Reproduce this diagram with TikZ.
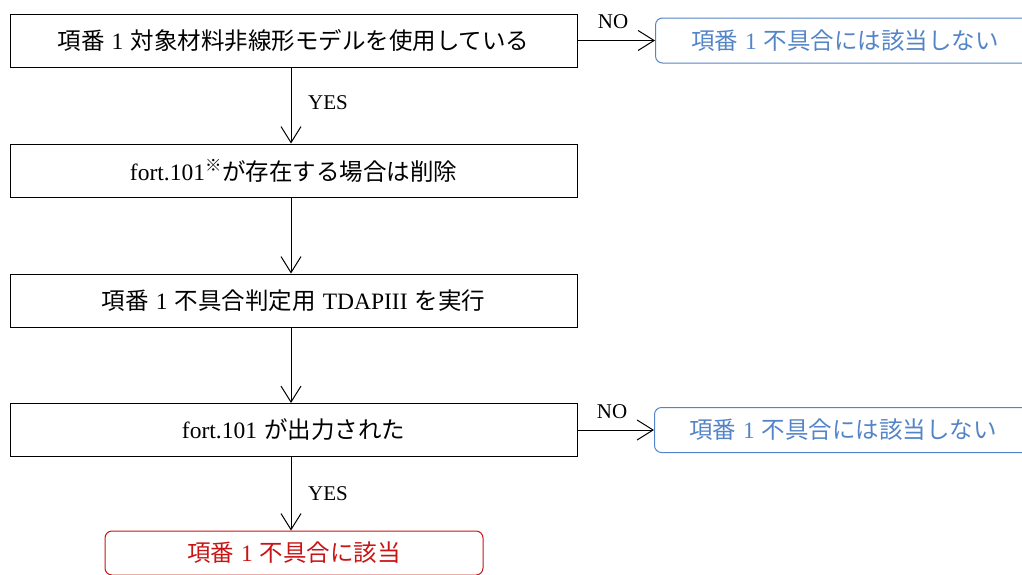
\documentclass[tikz,border=0pt]{standalone}
\usepackage{fontspec}
\setmainfont{Liberation Serif}
\newfontfamily\jp{Noto Sans CJK JP}
\usetikzlibrary{arrows.meta}
\definecolor{nblue}{RGB}{84,132,200}
\definecolor{nred}{RGB}{200,20,20}
\newcommand\jsp{\hspace{0.3em}}
\tikzset{
  txt/.style={font=\fontsize{23.5}{26}\selectfont},
  box/.style={txt, draw, line width=1pt, minimum width=567pt, minimum height=53pt, inner sep=0pt},
  nobox/.style={draw=nblue, line width=1pt, rounded corners=7pt, minimum width=380pt,
              minimum height=45pt, inner sep=0pt},
  notext/.style={txt, text=nblue, inner sep=0pt},
  hitbox/.style={txt, draw=nred, text=nred, line width=1pt, rounded corners=7pt, minimum width=378pt,
              minimum height=44pt, inner sep=0pt},
  arr/.style={line width=1pt, -{Straight Barb[length=16pt,width=20pt,line width=1pt]}},
  lab/.style={font=\fontsize{21}{24}\selectfont, inner sep=0pt}
}
\begin{document}
\begin{tikzpicture}[x=1pt,y=-1pt]
\useasboundingbox (0,0) rectangle (1022,574);
\clip (0,0) rectangle (1022,574);
\node[box] (b1) at (293.5,40.5) {{\jp 項番}\jsp1\jsp{\jp 対象材料非線形モデルを使用している}};
\node[box] (b2) at (293.5,170.5) {fort.101\textsuperscript{\jp ※}{\jp が存在する場合は削除}};
\node[box] (b3) at (293.5,300.5) {{\jp 項番}\jsp1\jsp{\jp 不具合判定用}\jsp TDAPIII\jsp{\jp を実行}};
\node[box] (b4) at (293.5,430) {fort.101\jsp{\jp が出力された}};
\node[nobox, anchor=west] (n1) at (655,40.5) {};
\node[notext] (n1t) at (845,40.5) {{\jp 項番}\jsp1\jsp{\jp 不具合には該当しない}};
\node[nobox, anchor=west] (n2) at (654,430) {};
\node[notext] (n2t) at (843,430) {{\jp 項番}\jsp1\jsp{\jp 不具合には該当しない}};
\node[hitbox] (h) at (294,553) {{\jp 項番}\jsp1\jsp{\jp 不具合に該当}};
\draw[arr] (b1.south -| 291,0) -- (b2.north -| 291,0);
\draw[arr] (b2.south -| 291,0) -- (b3.north -| 291,0);
\draw[arr] (b3.south -| 291,0) -- (b4.north -| 291,0);
\draw[arr] (b4.south -| 291,0) -- (h.north -| 291,0);
\draw[arr] (b1.east) -- (n1.west);
\draw[arr] (b4.east) -- (n2.west);
\node[lab] (y1) at (328,103) {YES};
\node[lab] (y2) at (328,494) {YES};
\node[lab] (no1) at (613,22) {NO};
\node[lab] (no2) at (612,412) {NO};
\end{tikzpicture}
\end{document}
